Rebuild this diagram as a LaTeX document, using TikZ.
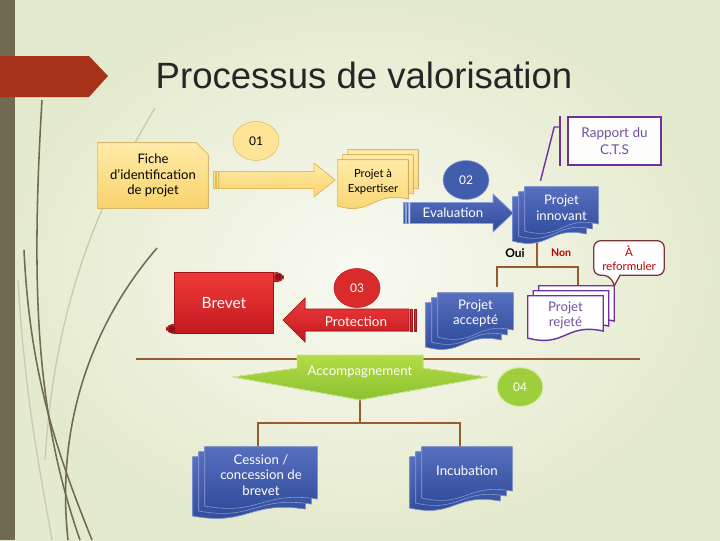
\documentclass[tikz,border=0pt]{standalone}
\usepackage{fontspec}
\setmainfont{Lato}
\newfontfamily\titlefont{Liberation Sans}
\usetikzlibrary{calc,shapes.geometric,positioning}

\definecolor{bgin}{HTML}{F9FAF2}
\definecolor{bgout}{HTML}{E4EACD}
\definecolor{olive}{HTML}{6F6A50}
\definecolor{tagred}{HTML}{A63219}
\definecolor{ylwtop}{HTML}{FFEBA8}
\definecolor{ylwbot}{HTML}{F9D36C}
\definecolor{ylwedge}{HTML}{E6BC5A}
\definecolor{blutop}{HTML}{566FBE}
\definecolor{blubot}{HTML}{2F4A9A}
\definecolor{bluedge}{HTML}{8CA0DC}
\definecolor{redtop}{HTML}{EE3A3A}
\definecolor{redbot}{HTML}{C41A1F}
\definecolor{grntop}{HTML}{B3DB47}
\definecolor{grnbot}{HTML}{8CC230}
\definecolor{brown}{HTML}{995A2D}
\definecolor{violet}{HTML}{7030A0}
\definecolor{violtxt}{HTML}{7252A0}
\definecolor{maroon}{HTML}{7E3336}
\definecolor{nonred}{HTML}{C00000}

\pgfdeclarelayer{back}
\pgfsetlayers{back,main}

\newcommand\docstack[4]{%
  \foreach \k in {2,1,0}{
    \filldraw[#4] let \p1=($(#1.north west)+({\k*(#2)},{\k*(#3)})$),
      \p2=($(#1.south east)+({\k*(#2)},{\k*(#3)})$) in
      (\x1,\y1) -- (\x2,\y1) -- (\x2,\y2+3pt)
      .. controls ({(\x1+\x2)/2},\y2+9pt) and ({(\x1+\x2)/2},\y2-9pt) .. (\x1,\y2-2pt) -- cycle;
  }%
}

\begin{document}
\begin{tikzpicture}[
    x=0.025cm, y=0.025cm,
    boxsize/.style 2 args={minimum width=#1*0.025cm, minimum height=#2*0.025cm},
    txt/.style={inner sep=0pt, align=center, font=\fontsize{9.4}{11}\selectfont},
    small/.style={txt, font=\fontsize{8}{10.8}\selectfont},
    num/.style={ellipse, inner sep=0pt, boxsize={46}{39}, font=\fontsize{8.5}{10}\selectfont},
    ylw/.style={top color=ylwtop, bottom color=ylwbot, draw=ylwedge, line width=0.5pt},
    blu/.style={top color=blutop, bottom color=blubot, draw=bluedge, line width=0.4pt},
    rd/.style={top color=redtop, bottom color=redbot, draw=redbot!80!black, line width=0.4pt},
    grn/.style={top color=grntop, bottom color=grnbot, draw=grntop!60!white, line width=0.6pt},
    tree/.style={draw=brown, line width=1.4pt},
    deco/.style={draw=olive, line width=1.1pt},
    decolight/.style={draw=olive!25!bgout, line width=0.9pt},
  ]
  \useasboundingbox (0,0) rectangle (720,-540);

  \begin{pgfonlayer}{back}
    \shade[inner color=bgin, outer color=bgout] (0,0) rectangle (720,-540);
    \draw[decolight] (155,-108) .. controls (100,-200) and (55,-300) .. (45,-460);
    \draw[decolight] (18,-280) .. controls (25,-400) and (40,-470) .. (52,-540);
    \draw[deco] (42,-100) .. controls (30,-300) and (38,-420) .. (80,-540);
    \draw[deco] (24,-250) .. controls (30,-380) and (60,-460) .. (92,-540);
    \draw[deco] (157,-248) .. controls (95,-320) and (55,-420) .. (68,-540);
    \fill[olive] (0,0) rectangle (15,-540);
    \fill[tagred] (0,-56) -- (89,-56) -- (108,-76) -- (89,-97) -- (0,-97) -- cycle;
  \end{pgfonlayer}

  \node (title) [font=\titlefont\fontsize{26}{30}\selectfont, text=black!85, anchor=base] at (364,-88) {Processus de valorisation};

  \node (fiche) [txt, font=\fontsize{9.3}{11.2}\selectfont, boxsize={110}{65}] at (153,-175.5) {Fiche\\d’identification\\de projet};
  \node (c01) [num, fill=ylwtop!70!ylwbot, draw=ylwedge] at (256,-141) {01};
  \node (expert) [small, boxsize={70}{43}] at (373,-181.5) {Projet à\\Expertiser};
  \node (c02) [num, fill=blutop!50!blubot, draw=bluedge, text=white] at (466,-180) {02};
  \node (evaltxt) [txt, text=white] at (453,-213) {Evaluation};
  \node (innov) [txt, text=white, boxsize={73}{41}] at (561.5,-207.5) {Projet\\innovant};
  \node (rapport) [txt, font=\fontsize{9.6}{11.5}\selectfont, text=violtxt, boxsize={93}{48}, draw=violet, line width=1.1pt, fill=white!70!bgin] at (614.5,-141) {Rapport du\\C.T.S};
  \node (oui) [txt, font=\fontsize{8.5}{10}\selectfont\bfseries] at (515,-253) {Oui};
  \node (non) [txt, font=\fontsize{7.5}{9}\selectfont\bfseries, text=nonred] at (561,-253) {Non};
  \node (reform) [txt, font=\fontsize{8.2}{10}\selectfont, text=nonred, boxsize={70}{34}] at (629,-258) {À\\reformuler};
  \node (rejet) [txt, text=violtxt, boxsize={75}{39}] at (565.5,-315.5) {Projet\\rejeté};
  \node (accept) [txt, text=white, boxsize={75}{41}] at (475.5,-313.5) {Projet\\accepté};
  \node (c03) [num, fill=redtop!50!redbot, draw=redbot, text=white] at (357,-288) {03};
  \node (prottxt) [txt, font=\fontsize{9.6}{11}\selectfont, text=white] at (356,-322) {Protection};
  \node (brevet) [txt, font=\fontsize{11}{13}\selectfont, text=white, boxsize={98}{53}] at (224,-303.5) {Brevet};
  \node (acctxt) [txt, text=white] at (360,-372) {Accompagnement};
  \node (c04) [num, fill=grntop!50!grnbot, draw=grntop!50!white, line width=0.8pt, text=white] at (520,-387) {04};
  \node (cession) [txt, text=white, boxsize={112}{56}] at (261,-475) {Cession /\\concession de\\brevet};
  \node (incub) [txt, text=white, boxsize={90}{48}] at (467,-471) {Incubation};

  \coordinate (split) at (537,-267);
  \coordinate (acctip) at (360,-400);
  \coordinate (split2) at (360,-423);
  \coordinate (tip) at ($(rejet.north east)+(11,10)$);

  \begin{pgfonlayer}{back}
    \draw[tree] (split |- innov.south) -- (split);
    \draw[tree] ($(accept.north)+(21.5,6)$) |- (split) -| ($(rejet.north)+(12.5,0)$);
    \draw[tree] (136,-359) -- (640,-359);
    \draw[tree] (acctip) -- (split2);
    \draw[tree] ($(cession.north)+(-3,0)$) |- (split2) -| ($(incub.north)+(-7,0)$);
    \draw[violet, line width=1pt] ($(innov.north)+(-21,6)$) -- ($(rapport.west)+(-13,14)$) -- ($(rapport.west)+(-7,14)$);
    \draw[violet, line width=1.3pt] ($(rapport.north west)+(-7,0)$) -- ($(rapport.south west)+(-7,0)$);

    \filldraw[ylw] (fiche.north west) -- ($(fiche.north east)+(-12,0)$) -- ($(fiche.north east)+(0,-12)$)
      -- (fiche.south east) -- (fiche.south west) -- cycle;
    \filldraw[ylw] (219,-171.5) -- (314,-171.5) -- (314,-163) -- (335,-180) -- (314,-197) -- (314,-188.5) -- (219,-188.5) -- cycle;
    \filldraw[ylw] (213,-171.5) rectangle (215,-188.5) (216.2,-171.5) rectangle (218,-188.5);
    \docstack{expert}{5}{5}{ylw}

    \filldraw[blu] (410,-202.5) -- (493,-202.5) -- (493,-194) -- (513,-213) -- (493,-232) -- (493,-223.5) -- (410,-223.5) -- cycle;
    \filldraw[blu] (403,-202.5) rectangle (405,-223.5) (406.2,-202.5) rectangle (408.5,-223.5);
    \docstack{innov}{-6}{-5}{blu}

    \filldraw[draw=maroon, fill=white, line width=0.9pt] (tip) -- ($(reform.south)+(-9,0)$) [rounded corners=5pt]
      -- (reform.south east) -- (reform.north east) -- (reform.north west) -- (reform.south west)
      -- ($(reform.south)+(-19,0)$) [sharp corners] -- cycle;
    \docstack{rejet}{5.5}{5}{fill=white, draw=violet, line width=1pt}
    \docstack{accept}{-6}{-5}{blu}

    \filldraw[rd] (283,-320) -- (305,-298) -- (305,-309) -- (409,-309) -- (409,-331) -- (305,-331) -- (305,-342) -- cycle;
    \filldraw[rd] (410.5,-309) rectangle (412.5,-331) (414,-309) rectangle (416,-331);
    \filldraw[rd, rounded corners=4pt] ($(brevet.north east)+(-4,4)$) rectangle ($(brevet.north east)+(10,-5)$);
    \filldraw[rd, rounded corners=4pt] ($(brevet.south west)+(4,-3)$) rectangle ($(brevet.south west)+(-8,6)$);
    \filldraw[rd] ($(brevet.north west)+(0,4)$) -- ($(brevet.north east)+(0,4)$) -- ($(brevet.south east)+(0,-3)$) -- ($(brevet.south west)+(0,-3)$) -- cycle;
    \fill[redbot!70!black] ($(brevet.north east)+(5,0)$) circle (3.5);
    \fill[redbot!70!black] ($(brevet.south west)+(-3,1.5)$) circle (3.5);

    \filldraw[grn] (297,-355) -- (423,-355) -- (423,-368) -- (487,-377) -- (acctip) -- (233,-377) -- (297,-368) -- cycle;
    \docstack{cession}{-6}{-5}{blu}
    \docstack{incub}{-6}{-5}{blu}
  \end{pgfonlayer}
\end{tikzpicture}
\end{document}
